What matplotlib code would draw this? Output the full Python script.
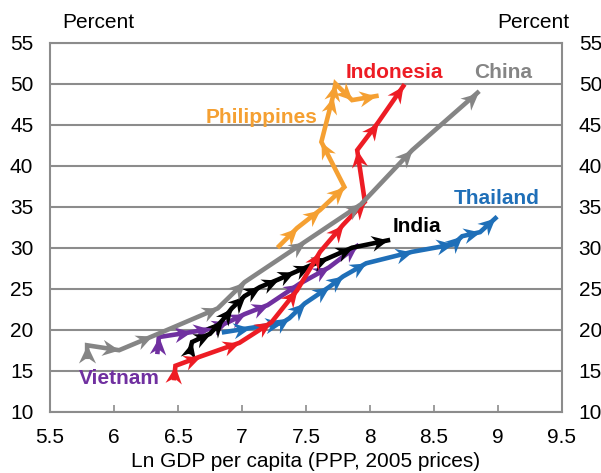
import numpy as np
import matplotlib.pyplot as plt
from matplotlib.path import Path

plt.rcParams['font.family'] = ['Liberation Sans', 'DejaVu Sans']

# Ln GDP per capita (x) vs share in percent (y)
china_x = [5.79, 5.79, 6.04, 6.30, 6.81, 7.02, 7.49, 7.93, 8.33, 8.84]
china_y = [16.7, 18.1, 17.5, 19.2, 22.6, 25.8, 30.7, 35.3, 41.9, 48.9]

indonesia_x = [6.47, 6.48, 6.67, 6.98, 7.23, 7.43, 7.61, 7.79, 7.96, 7.90, 8.06, 8.26]
indonesia_y = [14.1, 15.6, 16.7, 18.4, 20.9, 24.8, 29.5, 32.8, 35.6, 41.9, 45.2, 49.7]

philippines_x = [7.29, 7.43, 7.61, 7.80, 7.62, 7.71, 7.73, 7.86, 8.05]
philippines_y = [30.2, 32.4, 34.6, 37.4, 42.9, 48.4, 50.0, 48.0, 48.5]

india_x = [6.59, 6.61, 6.75, 6.85, 6.92, 7.02, 7.14, 7.28, 7.41, 7.53, 7.67, 7.86, 8.14]
india_y = [17.3, 18.5, 19.5, 21.2, 22.6, 24.1, 25.2, 26.1, 27.0, 27.8, 28.7, 30.0, 30.9]

vietnam_x = [6.34, 6.35, 6.60, 6.75, 6.89, 7.02, 7.20, 7.45, 7.68, 7.90]
vietnam_y = [17.3, 19.1, 19.7, 20.1, 20.9, 21.9, 23.0, 25.6, 27.6, 30.2]

thailand_x = [6.86, 7.06, 7.31, 7.37, 7.49, 7.68, 7.79, 7.97, 8.33, 8.65, 8.72, 8.86, 8.98]
thailand_y = [19.7, 20.2, 20.8, 21.4, 23.2, 25.2, 26.5, 28.1, 29.5, 30.4, 31.4, 31.9, 33.6]

series = [
    ("Vietnam", vietnam_x, vietnam_y, "#7030A0", (6.04, 14.1)),
    ("India", india_x, india_y, "black", (8.37, 32.6)),
    ("Thailand", thailand_x, thailand_y, "#1F6FB8", (8.99, 36.0)),
    ("Indonesia", indonesia_x, indonesia_y, "#ED1C24", (8.19, 51.4)),
    ("Philippines", philippines_x, philippines_y, "#F5A032", (7.15, 45.9)),
    ("China", china_x, china_y, "#858585", (9.04, 51.4)),
]

fig = plt.figure(figsize=(6.01, 4.73), dpi=100)
ax = fig.add_axes([0.0832, 0.1296, 0.8519, 0.7801])
ax.set_xlim(5.5, 9.5)
ax.set_ylim(10, 55)

# barbed arrowhead, tip at the origin pointing along +x
head = np.array([[0, 0], [-2, 0.95], [-1.35, 0], [-2, -0.95], [0, 0]])
codes = [Path.MOVETO, Path.LINETO, Path.LINETO, Path.LINETO, Path.CLOSEPOLY]


def arrow_marker(ang):
    c, s = np.cos(ang), np.sin(ang)
    rot = head @ np.array([[c, s], [-s, c]])
    return Path(rot, codes)


for z, (name, xs, ys, col, lab) in enumerate(series):
    ax.plot(xs, ys, color=col, lw=3.3, solid_joinstyle='miter', zorder=3 + z)
    pts = ax.transData.transform(np.column_stack([xs, ys]))
    for i in range(1, len(xs)):
        d = pts[i] - pts[i - 1]
        ang = np.arctan2(d[1], d[0])
        ax.plot(xs[i], ys[i], marker=arrow_marker(ang), markersize=26,
                color=col, markeredgewidth=0, zorder=3 + z)
    ax.text(lab[0], lab[1], name, color=col, fontsize=15, fontweight='bold',
            ha='center', va='center', zorder=10)

ax.set_xticks([5.5, 6, 6.5, 7, 7.5, 8, 8.5, 9, 9.5])
ax.set_xticklabels(['5.5', '6', '6.5', '7', '7.5', '8', '8.5', '9', '9.5'])
ax.set_yticks(range(10, 56, 5))
ax.yaxis.grid(True, color='#8C8C8C', lw=1.5)
ax.set_axisbelow(True)
for s in ax.spines.values():
    s.set_color('#8C8C8C')
    s.set_linewidth(1.5)
ax.tick_params(axis='x', direction='in', length=5, width=1.2, color='#8C8C8C',
               labelsize=15, pad=12)
ax.tick_params(axis='y', length=0, labelsize=15, pad=12, labelright=True)
ax.set_xlabel('Ln GDP per capita (PPP, 2005 prices)', fontsize=15, labelpad=3)

fig.text(0.163, 0.953, 'Percent', fontsize=15, ha='center', va='center')
fig.text(0.887, 0.953, 'Percent', fontsize=15, ha='center', va='center')

fig.savefig('out.png', dpi=100)
